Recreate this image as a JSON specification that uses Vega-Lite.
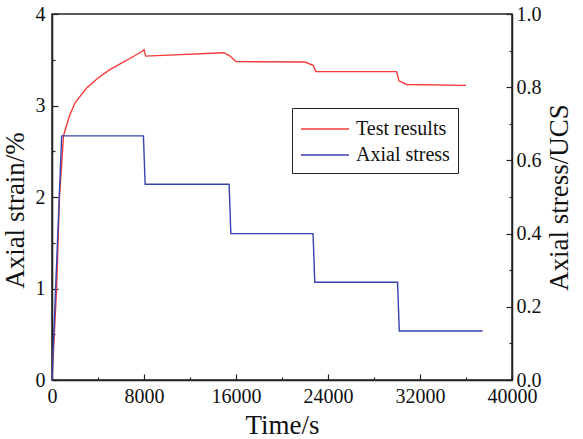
{
  "$schema": "https://vega.github.io/schema/vega-lite/v6.json",
  "width": 460,
  "height": 366,
  "autosize": {"type": "none"},
  "padding": {"left": 52, "top": 14, "right": 71, "bottom": 59},
  "config": {
    "font": "Liberation Serif, Times New Roman, serif",
    "view": {"stroke": "#222", "strokeWidth": 1.5},
    "axis": {"grid": false, "domainColor": "#222", "domainWidth": 1.5, "tickColor": "#222", "tickWidth": 1.2, "labelFont": "Liberation Serif, Times New Roman, serif", "titleFont": "Liberation Serif, Times New Roman, serif", "labelFontSize": 20, "titleFontSize": 27, "titleFontWeight": "normal", "labelColor": "#111", "titleColor": "#111"},
    "legend": {"labelFont": "Liberation Serif, Times New Roman, serif"}
  },
  "data": {"values": [
    {"series": "Test results", "time": 0, "strain": 0},
    {"series": "Test results", "time": 400, "strain": 1.0},
    {"series": "Test results", "time": 650, "strain": 2.0},
    {"series": "Test results", "time": 1000, "strain": 2.67},
    {"series": "Test results", "time": 1500, "strain": 2.88},
    {"series": "Test results", "time": 2000, "strain": 3.03},
    {"series": "Test results", "time": 3000, "strain": 3.19},
    {"series": "Test results", "time": 4000, "strain": 3.3},
    {"series": "Test results", "time": 5000, "strain": 3.39},
    {"series": "Test results", "time": 6000, "strain": 3.46},
    {"series": "Test results", "time": 7000, "strain": 3.53},
    {"series": "Test results", "time": 7950, "strain": 3.6},
    {"series": "Test results", "time": 8000, "strain": 3.61},
    {"series": "Test results", "time": 8150, "strain": 3.54},
    {"series": "Test results", "time": 14950, "strain": 3.577},
    {"series": "Test results", "time": 15480, "strain": 3.54},
    {"series": "Test results", "time": 16000, "strain": 3.48},
    {"series": "Test results", "time": 22000, "strain": 3.475},
    {"series": "Test results", "time": 22700, "strain": 3.44},
    {"series": "Test results", "time": 22950, "strain": 3.37},
    {"series": "Test results", "time": 29970, "strain": 3.37},
    {"series": "Test results", "time": 30170, "strain": 3.27},
    {"series": "Test results", "time": 30840, "strain": 3.23},
    {"series": "Test results", "time": 36000, "strain": 3.22},
    {"series": "Axial stress", "time": 0, "stress": 0},
    {"series": "Axial stress", "time": 840, "stress": 0.667},
    {"series": "Axial stress", "time": 7950, "stress": 0.667},
    {"series": "Axial stress", "time": 8100, "stress": 0.535},
    {"series": "Axial stress", "time": 15400, "stress": 0.535},
    {"series": "Axial stress", "time": 15550, "stress": 0.4},
    {"series": "Axial stress", "time": 22700, "stress": 0.4},
    {"series": "Axial stress", "time": 22850, "stress": 0.267},
    {"series": "Axial stress", "time": 30050, "stress": 0.267},
    {"series": "Axial stress", "time": 30200, "stress": 0.134},
    {"series": "Axial stress", "time": 37450, "stress": 0.134}
  ]},
  "encoding": {
    "x": {"field": "time", "type": "quantitative", "title": "Time/s",
      "scale": {"domain": [0, 40000], "nice": false},
      "axis": {"values": [0, 4000, 8000, 12000, 16000, 20000, 24000, 28000, 32000, 36000, 40000],
        "labelExpr": "datum.value % 8000 === 0 ? datum.label : ''", "format": "d",
        "labelFont": "Liberation Serif, Times New Roman, serif",
        "tickSize": {"condition": {"test": "datum.value % 8000 === 0", "value": -6}, "value": -3},
        "labelPadding": 12, "labelFlush": false, "titlePadding": 3, "labelOverlap": false}}
  },
  "layer": [
    {
      "transform": [{"filter": "datum.series === 'Test results'"}],
      "mark": {"type": "line", "strokeWidth": 1.4},
      "encoding": {
        "y": {"field": "strain", "type": "quantitative", "title": "Axial strain/%",
          "scale": {"domain": [0, 4], "nice": false},
          "axis": {"values": [0, 0.5, 1, 1.5, 2, 2.5, 3, 3.5, 4], "format": ".0f",
            "labelFont": "Liberation Serif, Times New Roman, serif",
            "labelExpr": "datum.value % 1 === 0 ? datum.label : ''",
            "tickSize": {"condition": {"test": "datum.value % 1 === 0", "value": -6}, "value": -3},
            "labelPadding": 13, "titlePadding": 6, "titleY": 196, "labelOverlap": false, "labelFlush": false}},
        "color": {"field": "series", "type": "nominal",
          "scale": {"domain": ["Test results", "Axial stress"], "range": ["#f53a3a", "#3544ae"]},
          "legend": {"title": null, "orient": "none", "legendX": 240, "legendY": 94,
            "symbolType": "M-1,0H3", "symbolSize": 576, "symbolStrokeWidth": 1.4,
            "labelFontSize": 20, "labelColor": "#111",
            "strokeColor": "#222", "fillColor": "white", "padding": 8, "rowPadding": 3,
            "labelOffset": 30}}
      }
    },
    {
      "transform": [{"filter": "datum.series === 'Axial stress'"}],
      "mark": {"type": "line", "strokeWidth": 1.4},
      "encoding": {
        "y": {"field": "stress", "type": "quantitative", "title": "Axial stress/UCS",
          "scale": {"domain": [0, 1], "nice": false},
          "axis": {"orient": "right", "values": [0, 0.1, 0.2, 0.3, 0.4, 0.5, 0.6, 0.7, 0.8, 0.9, 1.0], "format": ".1f",
            "labelFont": "Liberation Serif, Times New Roman, serif",
            "labelExpr": "round(datum.value * 10) % 2 === 0 ? datum.label : ''",
            "tickSize": {"condition": {"test": "round(datum.value * 10) % 2 === 0", "value": -6}, "value": -3},
            "labelPadding": 10, "titlePadding": 5, "titleAngle": 270, "titleBaseline": "top", "labelOverlap": false, "labelFlush": false}},
        "color": {"field": "series", "type": "nominal"}
      }
    }
  ],
  "resolve": {"scale": {"y": "independent"}}
}
